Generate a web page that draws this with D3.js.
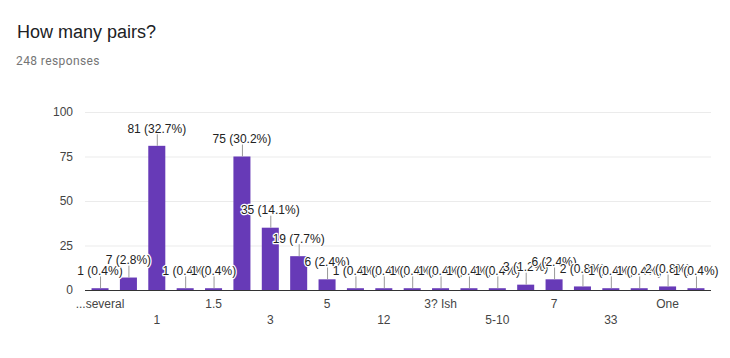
<!DOCTYPE html>
<html>
<head>
<meta charset="utf-8">
<script src="https://cdn.jsdelivr.net/npm/d3@7"></script>
<style>
  html, body { margin: 0; padding: 0; background: #fff; }
  svg { display: block; }
</style>
</head>
<body>
<svg id="chart" width="730" height="358"></svg>
<script>
const title = "How many pairs?";
const subtitle = "248 responses";
const categories = ["...several", "0", "1", "1 pair", "1.5", "2", "3", "4", "5", "10", "12", "2-3", "3? Ish", "4-5", "5-10", "6", "7", "8", "33", "20", "One", "Two"];
const values = [1, 7, 81, 1, 1, 75, 35, 19, 6, 1, 1, 1, 1, 1, 1, 3, 6, 2, 1, 1, 2, 1];
const yTicks = [0, 25, 50, 75, 100];
const total = 248;

(function () {
const svg = d3.select("#chart");
const mLeft = 85, mRight = 711, mTop = 112, mBottom = 290;

svg.append("text").attr("x", 17).attr("y", 38)
  .attr("font-family", "Arial, 'Liberation Sans', sans-serif").attr("font-size", 18)
  .attr("fill", "#202124").text(title);
svg.append("text").attr("x", 16).attr("y", 65)
  .attr("font-family", "Roboto, sans-serif").attr("font-size", 12)
  .attr("letter-spacing", 0.4)
  .attr("fill", "#757575").text(subtitle);

const x = d3.scaleBand().domain(categories).range([mLeft, mRight])
  .paddingInner(0.4).paddingOuter(0.23);
const y = d3.scaleLinear().domain([0, 100]).range([mBottom, mTop]);

// gridlines
const grid = svg.append("g").attr("transform", `translate(${mLeft},0)`)
  .call(d3.axisLeft(y).tickValues(yTicks).tickSize(-(mRight - mLeft)).tickFormat(""));
grid.select(".domain").remove();
grid.selectAll("line").attr("stroke", "#ebebeb").attr("stroke-width", 1);

// y labels
const ya = svg.append("g").attr("transform", `translate(${mLeft},0)`)
  .call(d3.axisLeft(y).tickValues(yTicks).tickSize(0).tickPadding(12));
ya.select(".domain").remove();
ya.selectAll("text").attr("font-family", "Arial, 'Liberation Sans', sans-serif")
  .attr("font-size", 12).attr("fill", "#444");

// bars
svg.append("g").selectAll("rect").data(categories).join("rect")
  .attr("x", d => x(d)).attr("width", x.bandwidth())
  .attr("y", (d, i) => y(values[i])).attr("height", (d, i) => y(0) - y(values[i]))
  .attr("fill", "#673ab7");

// baseline
svg.append("line").attr("x1", mLeft).attr("x2", mRight)
  .attr("y1", y(0) + 0.5).attr("y2", y(0) + 0.5)
  .attr("stroke", "#333").attr("stroke-width", 1);

// x axis labels
const xa = svg.append("g").attr("transform", `translate(0,${mBottom})`)
  .call(d3.axisBottom(x).tickSize(0).tickPadding(9)
    .tickFormat((d, i) => i % 2 === 0 ? d : ""));
xa.select(".domain").remove();
xa.selectAll("text").attr("font-family", "Arial, 'Liberation Sans', sans-serif")
  .attr("font-size", 12).attr("fill", "#444")
  .attr("dy", (d, i) => (i % 4 === 2 ? "2.05em" : "0.71em"));

// annotations
const ann = svg.append("g");
categories.forEach((c, i) => {
  const cx = x(c) + x.bandwidth() / 2;
  const ty = y(values[i]);
  ann.append("line").attr("x1", cx + 0.5).attr("x2", cx + 0.5)
    .attr("y1", ty).attr("y2", ty - 12)
    .attr("stroke", "#999").attr("stroke-width", 1);
});
categories.forEach((c, i) => {
  const cx = x(c) + x.bandwidth() / 2;
  const ty = y(values[i]);
  ann.append("text").attr("x", cx).attr("y", ty - 17.5)
    .attr("dy", "0.35em").attr("text-anchor", "middle")
    .attr("font-family", "Arial, 'Liberation Sans', sans-serif")
    .attr("font-size", 12).attr("fill", "#222")
    .attr("stroke", "#fff").attr("stroke-width", 2.5).attr("paint-order", "stroke")
    .attr("stroke-linejoin", "round")
    .text(`${values[i]} (${(values[i] / total * 100).toFixed(1)}%)`);
});
})();
</script>
</body>
</html>
